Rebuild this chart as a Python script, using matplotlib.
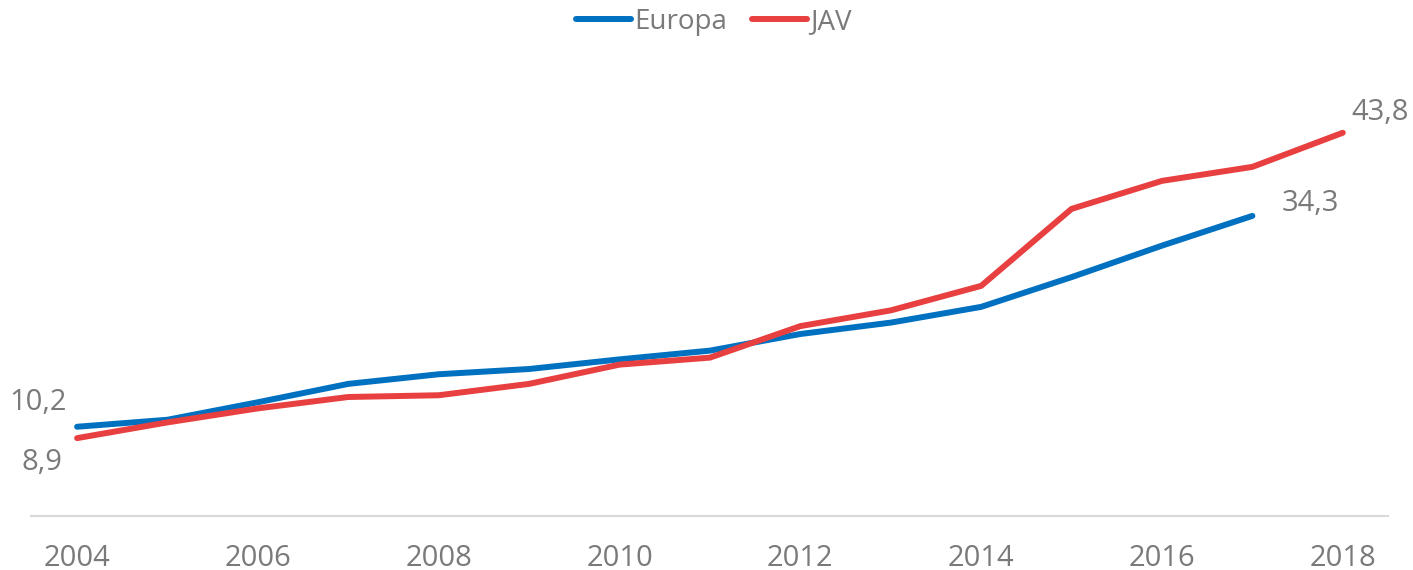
import matplotlib
matplotlib.use("Agg")
from matplotlib import pyplot as plt

years_eu = list(range(2004, 2018))
europa = [10.2, 11.0, 13.0, 15.1, 16.2, 16.8, 17.9, 18.9, 20.8, 22.1, 23.9, 27.3, 30.9, 34.3]
years_jav = list(range(2004, 2019))
jav = [8.9, 10.7, 12.3, 13.6, 13.8, 15.1, 17.3, 18.1, 21.7, 23.5, 26.3, 35.1, 38.3, 39.9, 43.8]
tick_years = [2004, 2006, 2008, 2010, 2012, 2014, 2016, 2018]

BLUE = "#0070C0"
RED = "#E84040"
GRAY = "#7a7a7a"

plt.rcParams['font.family'] = ['Open Sans', 'DejaVu Sans']

fig = plt.figure(figsize=(14.13, 5.70), dpi=100)
ax = fig.add_axes([31 / 1413, 54 / 570, 1357 / 1413, 437.5 / 570])

ax.plot(years_eu, europa, color=BLUE, lw=4.3, solid_capstyle='round', label='Europa')
ax.plot(years_jav, jav, color=RED, lw=4.3, solid_capstyle='round', label='JAV')

ax.set_xlim(2003.49, 2018.5)
ax.set_ylim(0, 50)

for s in ['top', 'right', 'left']:
    ax.spines[s].set_visible(False)
ax.spines['bottom'].set_color('#d9d9d9')
ax.spines['bottom'].set_linewidth(1.5)
ax.set_yticks([])
ax.set_xticks(tick_years)
ax.set_xticklabels([str(y) for y in tick_years])
ax.tick_params(axis='x', length=0, pad=20, labelsize=21, labelcolor=GRAY)

def fmt(v):
    return f"{v:.1f}".replace('.', ',')

ax.annotate(fmt(europa[0]), (years_eu[0], europa[0]), xytext=(-39, 24),
            textcoords='offset pixels', ha='center', va='center', fontsize=21, color=GRAY)
ax.annotate(fmt(jav[0]), (years_jav[0], jav[0]), xytext=(-35, -24),
            textcoords='offset pixels', ha='center', va='center', fontsize=21, color=GRAY)
ax.annotate(fmt(europa[-1]), (years_eu[-1], europa[-1]), xytext=(58, 12),
            textcoords='offset pixels', ha='center', va='center', fontsize=21, color=GRAY)
ax.annotate(fmt(jav[-1]), (years_jav[-1], jav[-1]), xytext=(37, 20),
            textcoords='offset pixels', ha='center', va='center', fontsize=21, color=GRAY)

leg = fig.legend(loc='center', bbox_to_anchor=(0.505, 1 - 22 / 570), ncol=2, frameon=False,
                 fontsize=20, handlelength=2.0, handletextpad=0.1, columnspacing=0.9)
for t in leg.get_texts():
    t.set_color(GRAY)

fig.savefig("out.png", dpi=100)
